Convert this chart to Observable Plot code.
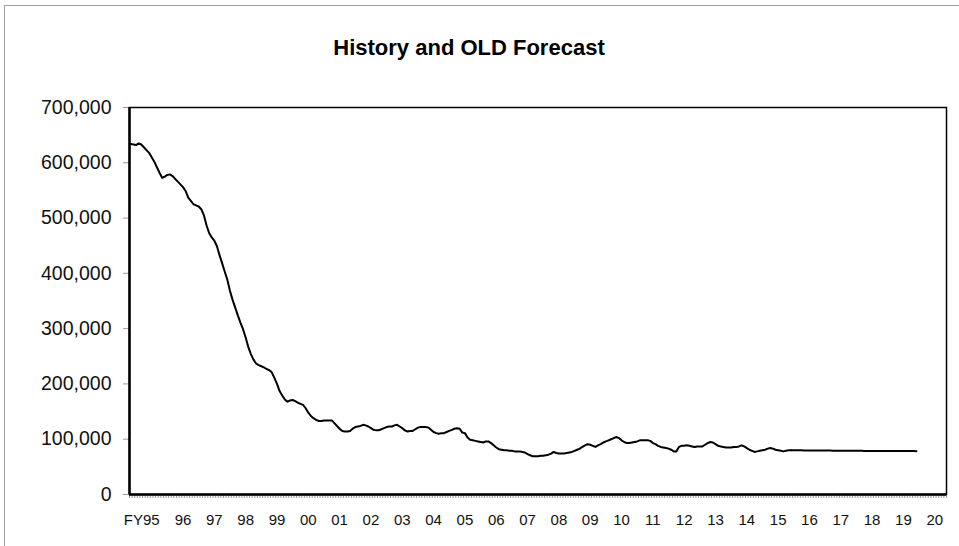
<!DOCTYPE html>
<html><head><meta charset="utf-8">
<script src="https://cdn.jsdelivr.net/npm/d3@7"></script>
<script src="https://cdn.jsdelivr.net/npm/@observablehq/plot@0.6"></script>
<style>
body{margin:0;background:#fff}
#wrap{position:relative;width:959px;height:546px}
#border{position:absolute;left:4px;top:5px;width:955px;height:541px;border-top:1px solid #a0a0a0;border-left:1px solid #a0a0a0;pointer-events:none}
</style>
</head><body><div id="wrap"><div id="chart"></div><div id="border"></div></div>
<script>
const title = "History and OLD Forecast";
// monthly history values, thousands
const historyK = [
634,633,632,635,633,628,623,618,610,602,592,582,
573,575,578,579,576,571,566,561,556,549,537,531,
525,523,521,516,505,487,473,465,459,449,433,418,
403,388,368,352,338,324,311,299,284,267,254,244,
237,234,232,230,227,225,221,211,200,187,179,172,
168,170,171,169,166,164,162,156,148,142,138,135,
133,133,134,134,134,134,129,124,119,115,114,114,
115,119,122,123,124,126,125,123,120,117,116,116,
118,120,122,123,123,125,126,123,120,116,114,115,
115,118,121,122,122,122,121,117,113,111,110,111,
111,113,115,117,119,120,119,112,111,103,99,98,
97,96,95,94,96,96,93,89,85,82,81,80,
80,79,79,78,78,78,77,76,73,71,69,69,
69,70,70,71,72,74,77,75,74,74,74,75,
76,77,79,81,83,86,89,91,90,88,86,89,
91,94,96,98,100,102,104,102,98,95,93,93,
94,95,96,98,98,98,98,97,93,91,88,86,
85,84,83,81,78,78,86,88,88,89,88,87,
86,87,87,87,90,93,95,94,91,88,87,86,
85,85,85,86,86,87,89,87,84,81,79,77,
78,79,80,81,83,84,83,81,80,79,78,79,
80,80
];
// monthly forecast values, thousands
const forecastK = [
80.0,80.0,79.9,79.9,79.8,79.8,79.7,79.7,79.6,79.6,79.5,79.5,
79.4,79.4,79.4,79.3,79.3,79.3,79.2,79.2,79.2,79.1,79.1,79.1,
79.0,79.0,79.0,78.9,78.9,78.9,78.9,78.8,78.8,78.8,78.8,78.7,
78.7,78.7,78.7,78.6,78.6,78.6,78.6,78.5,78.5,78.5,78.5,78.4
];
const yearLabels = ["FY95","96","97","98","99","00","01","02","03","04","05","06","07","08","09","10","11","12","13","14","15","16","17","18","19","20"];
const yTicks = [0,100000,200000,300000,400000,500000,600000,700000];
const monthCount = 313;

const histData = historyK.map((v,i)=>({i, v:v*1000}));
const last = historyK.length - 1;
const fcData = [{i:last, v:historyK[last]*1000}].concat(forecastK.map((v,k)=>({i:last+1+k, v:v*1000})));
const labelData = yearLabels.map((t,k)=>({t, i: 8 + 12*k}));
const minorTicks = d3.range(monthCount + 1).map(k => k - 0.5);
const narrow = "'Liberation Sans Narrow', 'Arial Narrow', 'Liberation Sans', sans-serif";

const plot = Plot.plot({
  width: 959, height: 546,
  marginLeft: 129, marginRight: 13, marginTop: 107, marginBottom: 52,
  style: {fontFamily: "'Liberation Sans', Arial, sans-serif", background: "white", color: "black"},
  x: {domain: [-0.5, monthCount - 0.5], axis: null, label: null},
  y: {domain: [0, 700000], axis: null, label: null},
  marks: [
    Plot.axisY(yTicks, {tickSize: 6, tickPadding: 12, tickFormat: d3.format(","), fontSize: 19.5, stroke: "#999", fill: "#111", label: null}),
    Plot.axisX(minorTicks, {tickSize: 4, stroke: "#999", tickFormat: () => "", label: null}),
    Plot.text(labelData.slice(1), {x: "i", text: "t", frameAnchor: "bottom", lineAnchor: "middle", dy: 26, fontSize: 15, fontFamily: narrow, fill: "#111"}),
    Plot.text(labelData.slice(0,1), {x: "i", text: "t", frameAnchor: "bottom", lineAnchor: "middle", dy: 26, dx: -10, fontSize: 15, fontFamily: narrow, fill: "#111"}),
    Plot.frame({stroke: "black", strokeWidth: 1.5}),
    Plot.ruleX([-0.5], {stroke: "black", strokeWidth: 2.5}),
    Plot.ruleY([0], {stroke: "black", strokeWidth: 2.5}),
    Plot.line(histData, {x: "i", y: "v", stroke: "black", strokeWidth: 2}),
    Plot.line(fcData, {x: "i", y: "v", stroke: "black", strokeWidth: 2}),
    Plot.text([title], {frameAnchor: "top", lineAnchor: "middle", dy: -60, dx: -69, fontWeight: "bold", fontSize: 22})
  ]
});
document.getElementById("chart").appendChild(plot);
</script>
</body></html>
